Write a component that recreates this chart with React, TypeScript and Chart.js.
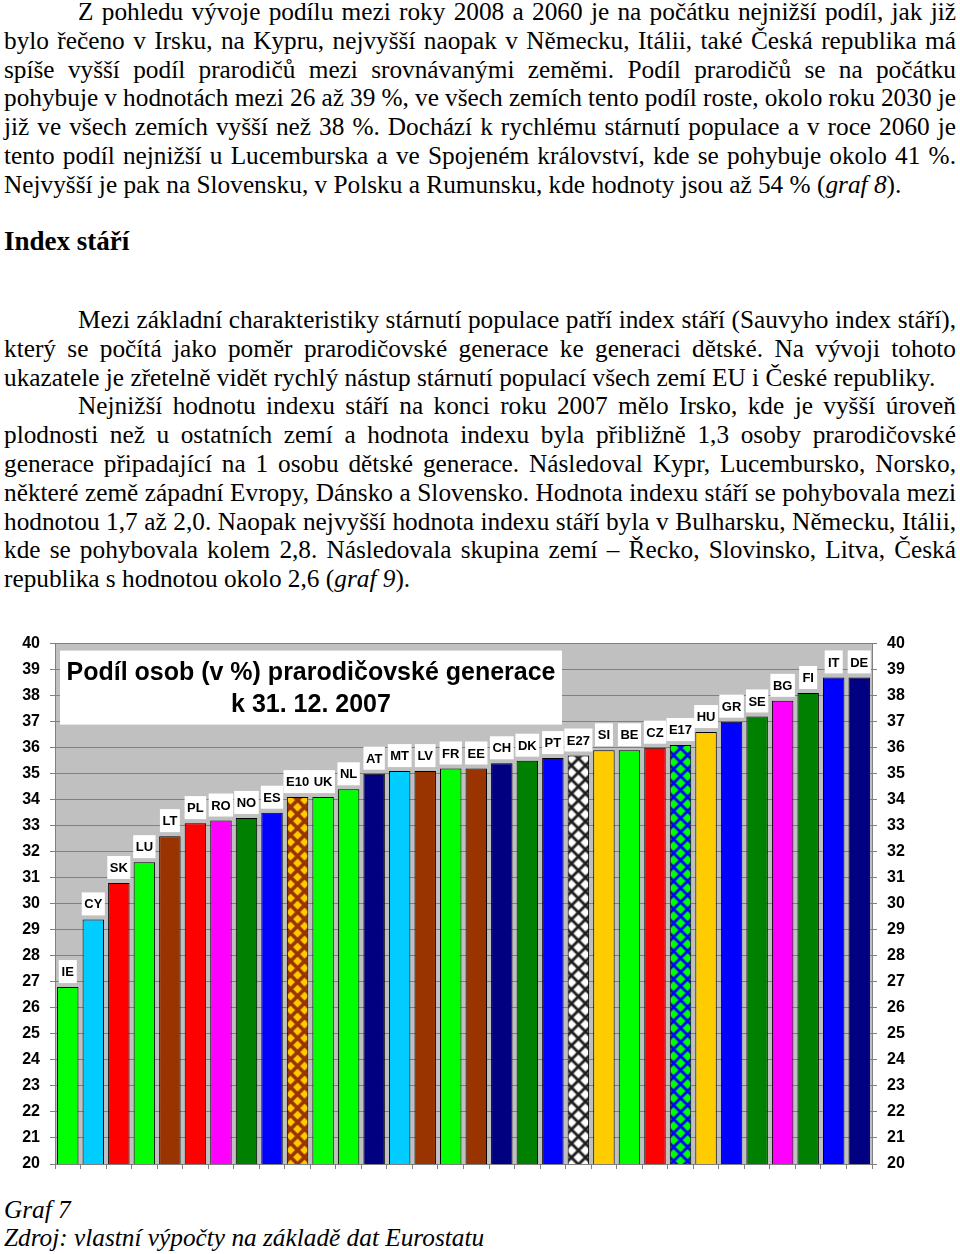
import React, { useEffect, useRef } from "react";
import { Chart, registerables } from "chart.js";

Chart.register(...registerables);

// ---------- data ----------
const categories = [
  "IE", "CY", "SK", "LU", "LT", "PL", "RO", "NO", "ES", "E10", "UK", "NL", "AT", "MT", "LV", "FR",
  "EE", "CH", "DK", "PT", "E27", "SI", "BE", "CZ", "E17", "HU", "GR", "SE", "BG", "FI", "IT", "DE",
];
const values = [
  26.8, 29.4, 30.8, 31.6, 32.6, 33.1, 33.2, 33.3, 33.5, 34.1, 34.1, 34.4, 35.0, 35.1, 35.1, 35.2,
  35.2, 35.4, 35.5, 35.6, 35.7, 35.9, 35.9, 36.0, 36.1, 36.6, 37.0, 37.2, 37.8, 38.1, 38.7, 38.7,
];
const barColors = [
  "#00ff00", "#00ccff", "#ff0000", "#00ff00", "#993300", "#ff0000", "#ff00ff", "#008000",
  "#0000ff", "pattern-e10", "#00ff00", "#00ff00", "#000080", "#00ccff", "#993300", "#00ff00",
  "#993300", "#000080", "#008000", "#0000ff", "pattern-e27", "#ffcc00", "#00ff00", "#ff0000",
  "pattern-e17", "#ffcc00", "#0000ff", "#008000", "#ff00ff", "#008000", "#0000ff", "#000080",
];
const yMin = 20;
const yMax = 40;
const yStep = 1;
const chartTitle = ["Podíl osob (v %) prarodičovské generace", "k 31. 12. 2007"];

const patternDefs: Record<string, [string, string, number]> = {
  "pattern-e10": ["#993300", "#ffcc00", 4.4],
  "pattern-e27": ["#1e1e1e", "#ffffff", 5.0],
  "pattern-e17": ["#0000ff", "#00ff00", 5.0],
};

const TILE = 14;

function makeDiamondPattern(bg: string, fg: string, r: number): CanvasPattern | string {
  const c = document.createElement("canvas");
  const p = TILE;
  c.width = p;
  c.height = p;
  const g = c.getContext("2d");
  if (!g) return bg;
  g.fillStyle = bg;
  g.fillRect(0, 0, p, p);
  g.fillStyle = fg;
  const diamond = (cx: number, cy: number) => {
    g.beginPath();
    g.moveTo(cx, cy - r);
    g.lineTo(cx + r, cy);
    g.lineTo(cx, cy + r);
    g.lineTo(cx - r, cy);
    g.closePath();
    g.fill();
  };
  diamond(p / 2, p / 2);
  diamond(0, 0);
  diamond(p, 0);
  diamond(0, p);
  diamond(p, p);
  return g.createPattern(c, "repeat") || bg;
}

const SANS = "'Liberation Sans', Arial, sans-serif";
const SERIF = "'Liberation Serif', 'Times New Roman', serif";

const plotBgPlugin = {
  id: "plotBg",
  beforeDraw(chart: any) {
    const { ctx, chartArea } = chart;
    ctx.save();
    ctx.fillStyle = "#c0c0c0";
    ctx.fillRect(chartArea.left, chartArea.top, chartArea.right - chartArea.left, chartArea.bottom - chartArea.top);
    ctx.restore();
  },
};

const titleBoxPlugin = {
  id: "titleBox",
  beforeDatasetsDraw(chart: any) {
    const { ctx, chartArea } = chart;
    // align the diamond patterns with their bars
    const meta = chart.getDatasetMeta(0);
    meta.data.forEach((bar: any, i: number) => {
      const bg = chart.data.datasets[0].backgroundColor[i];
      if (bg && typeof bg === "object" && typeof bg.setTransform === "function") {
        const { x, y } = bar.getProps(["x", "y"], true);
        try {
          bg.setTransform(new DOMMatrix().translate(x - TILE / 2, y + 3));
        } catch (e) {
          /* ignore */
        }
      }
    });
    const left = chartArea.left + 5;
    const top = chartArea.top + 7;
    const w = 502;
    const h = 74;
    ctx.save();
    ctx.fillStyle = "#ffffff";
    ctx.fillRect(left, top, w, h);
    ctx.fillStyle = "#000000";
    ctx.font = `bold 25px ${SANS}`;
    ctx.textAlign = "center";
    ctx.textBaseline = "middle";
    ctx.fillText(chartTitle[0], left + w / 2, top + 23);
    ctx.fillText(chartTitle[1], left + w / 2, top + 55);
    ctx.restore();
  },
};

const barLabelPlugin = {
  id: "barLabels",
  afterDatasetsDraw(chart: any) {
    const { ctx } = chart;
    const meta = chart.getDatasetMeta(0);
    ctx.save();
    ctx.font = `bold 13px ${SANS}`;
    ctx.textAlign = "center";
    ctx.textBaseline = "middle";
    meta.data.forEach((bar: any, i: number) => {
      const { x, y } = bar.getProps(["x", "y"], true);
      const label = categories[i];
      const tw = ctx.measureText(label).width;
      const bw = Math.max(18, tw + 5);
      const bh = 23;
      const by = y - 4 - bh;
      ctx.fillStyle = "#ffffff";
      ctx.fillRect(x - bw / 2, by, bw, bh);
      ctx.fillStyle = "#000000";
      ctx.fillText(label, x, by + bh / 2 + 1);
    });
    ctx.restore();
  },
};

const CANVAS_TOP = 624;
const CANVAS_H = 567;

function BarChart() {
  const ref = useRef<HTMLCanvasElement | null>(null);
  useEffect(() => {
    if (!ref.current) return;
    const colors = barColors.map((c) =>
      patternDefs[c] ? makeDiamondPattern(patternDefs[c][0], patternDefs[c][1], patternDefs[c][2]) : c
    );
    const tickFont = { family: SANS, size: 16, weight: "bold" as const };
    const chart = new Chart(ref.current, {
      type: "bar",
      data: {
        labels: categories,
        datasets: [
          {
            data: values,
            backgroundColor: colors as any,
            borderColor: "#000000",
            borderWidth: 1,
            barPercentage: 0.84,
            categoryPercentage: 1,
          },
        ],
      },
      options: {
        responsive: false,
        animation: false,
        devicePixelRatio: 1,
        layout: { padding: 0 },
        plugins: {
          legend: { display: false },
          tooltip: { enabled: false },
          title: { display: false },
        },
        scales: {
          x: {
            grid: { display: true, drawOnChartArea: false, drawTicks: true, tickLength: 5, color: "#808080" },
            border: { display: true, color: "#808080" },
            ticks: { display: false },
            afterFit: (s: any) => {
              s.height = 27;
            },
          },
          y: {
            position: "left",
            min: yMin,
            max: yMax,
            ticks: { stepSize: yStep, font: tickFont, color: "#000000", padding: 10 },
            grid: { color: "#808080", tickLength: 5 },
            border: { color: "#808080" },
            afterFit: (s: any) => {
              s.width = 55;
            },
          },
          y2: {
            position: "right",
            min: yMin,
            max: yMax,
            ticks: { stepSize: yStep, font: tickFont, color: "#000000", padding: 10 },
            grid: { drawOnChartArea: false, color: "#808080", tickLength: 5 },
            border: { color: "#808080" },
            afterFit: (s: any) => {
              s.width = 88;
            },
          },
        },
      } as any,
      plugins: [plotBgPlugin, titleBoxPlugin, barLabelPlugin],
    });
    return () => chart.destroy();
  }, []);
  return (
    <canvas
      ref={ref}
      width={960}
      height={CANVAS_H}
      style={{ position: "absolute", left: 0, top: CANVAS_TOP, width: 960, height: CANVAS_H }}
    />
  );
}

const FS = 25.3;
const LH = 28.8;

function Line({
  y,
  indent = false,
  justify = true,
  children,
  style,
}: {
  y: number;
  indent?: boolean;
  justify?: boolean;
  children: React.ReactNode;
  style?: React.CSSProperties;
}) {
  return (
    <div
      style={{
        position: "absolute",
        left: 4,
        width: 952,
        top: y - 15,
        boxSizing: "border-box",
        paddingLeft: indent ? 74 : 0,
        fontFamily: SERIF,
        fontSize: FS,
        lineHeight: `${LH}px`,
        whiteSpace: "nowrap",
        textAlign: justify ? "justify" : "left",
        textAlignLast: justify ? "justify" : "left",
        color: "#000",
        ...style,
      }}
    >
      {children}
    </div>
  );
}

export default function App() {
  const p1 = 12;
  const p2 = 320;
  return (
    <div style={{ position: "absolute", left: 0, top: 0, width: 960, height: 1254, background: "#fff", overflow: "hidden" }}>
      <Line y={p1} indent>Z pohledu vývoje podílu mezi roky 2008 a 2060 je na počátku nejnižší podíl, jak již</Line>
      <Line y={p1 + LH}>bylo řečeno v Irsku, na Kypru, nejvyšší naopak v Německu, Itálii, také Česká republika má</Line>
      <Line y={p1 + LH * 2}>spíše vyšší podíl prarodičů mezi srovnávanými zeměmi. Podíl prarodičů se na počátku</Line>
      <Line y={p1 + LH * 3} style={{ wordSpacing: "-1.5px" }}>
        pohybuje v hodnotách mezi 26 až 39 %, ve všech zemích tento podíl roste, okolo roku 2030 je
      </Line>
      <Line y={p1 + LH * 4}>již ve všech zemích vyšší než 38 %. Dochází k rychlému stárnutí populace a v roce 2060 je</Line>
      <Line y={p1 + LH * 5}>tento podíl nejnižší u Lucemburska a ve Spojeném království, kde se pohybuje okolo 41 %.</Line>
      <Line y={p1 + LH * 6} justify={false}>
        Nejvyšší je pak na Slovensku, v Polsku a Rumunsku, kde hodnoty jsou až 54 % (<i>graf 8</i>).
      </Line>
      <Line y={p1 + LH * 8} justify={false} style={{ fontWeight: "bold", fontSize: 27 }}>
        Index stáří
      </Line>
      <Line y={p2} indent>Mezi základní charakteristiky stárnutí populace patří index stáří (Sauvyho index stáří),</Line>
      <Line y={p2 + LH}>který se počítá jako poměr prarodičovské generace ke generaci dětské. Na vývoji tohoto</Line>
      <Line y={p2 + LH * 2} justify={false}>
        ukazatele je zřetelně vidět rychlý nástup stárnutí populací všech zemí EU i České republiky.
      </Line>
      <Line y={p2 + LH * 3} indent>Nejnižší hodnotu indexu stáří na konci roku 2007 mělo Irsko, kde je vyšší úroveň</Line>
      <Line y={p2 + LH * 4}>plodnosti než u ostatních zemí a hodnota indexu byla přibližně 1,3 osoby prarodičovské</Line>
      <Line y={p2 + LH * 5}>generace připadající na 1 osobu dětské generace. Následoval Kypr, Lucembursko, Norsko,</Line>
      <Line y={p2 + LH * 6}>některé země západní Evropy, Dánsko a Slovensko. Hodnota indexu stáří se pohybovala mezi</Line>
      <Line y={p2 + LH * 7}>hodnotou 1,7 až 2,0. Naopak nejvyšší hodnota indexu stáří byla v Bulharsku, Německu, Itálii,</Line>
      <Line y={p2 + LH * 8}>kde se pohybovala kolem 2,8. Následovala skupina zemí – Řecko, Slovinsko, Litva, Česká</Line>
      <Line y={p2 + LH * 9} justify={false}>
        republika s hodnotou okolo 2,6 (<i>graf 9</i>).
      </Line>
      <BarChart />
      <Line y={1210} justify={false} style={{ fontStyle: "italic" }}>
        Graf 7
      </Line>
      <Line y={1238} justify={false} style={{ fontStyle: "italic" }}>
        Zdroj: vlastní výpočty na základě dat Eurostatu
      </Line>
    </div>
  );
}
